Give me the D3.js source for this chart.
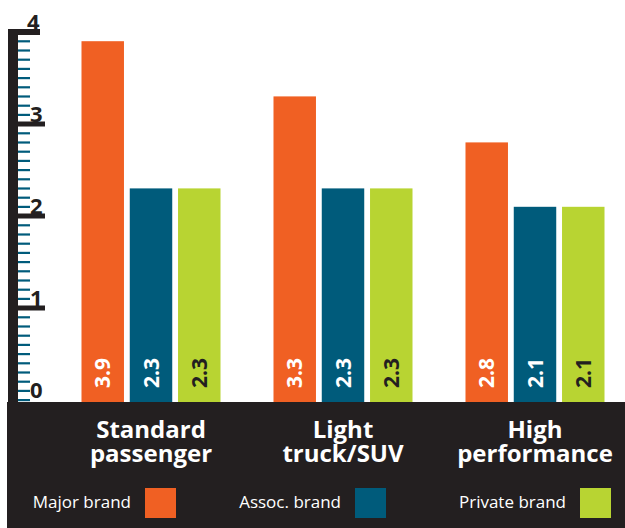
<!DOCTYPE html>
<html>
<head>
<meta charset="utf-8">
<title>Brand comparison</title>
<script src="https://d3js.org/d3.v7.min.js"></script>
<style>
  body { margin: 0; background: #fff; }
  svg text { font-family: "Open Sans", "Noto Sans", sans-serif; }
</style>
</head>
<body>
<div id="chart"></div>
<script>
// data
var categories = [["Standard", "passenger"], ["Light", "truck/SUV"], ["High", "performance"]];
var series = ["Major brand", "Assoc. brand", "Private brand"];
var major = [3.9, 3.3, 2.8];
var assoc = [2.3, 2.3, 2.1];
var privateBrand = [2.3, 2.3, 2.1];
var tickLabels = ["0", "1", "2", "3", "4"];

var colors = ["#f06023", "#005b7b", "#b8d432"];
var labelColors = ["#ffffff", "#ffffff", "#231f20"];
var dark = "#231f20";

var width = 625, height = 528;
var bandTop = 402;

var svg = d3.select("#chart").append("svg")
  .attr("width", width)
  .attr("height", height);

var catKeys = categories.map(function(d) { return d.join(" "); });

// scales
var x0 = d3.scaleBand()
  .domain(catKeys)
  .range([55, 631])
  .paddingInner(0.276)
  .paddingOuter(0.138);

var x1 = d3.scaleBand()
  .domain(series)
  .range([0, x0.bandwidth()])
  .paddingInner(0.12);

var y = d3.scaleLinear()
  .domain([0, 4])
  .range([400, 32]);

var rows = catKeys.map(function(c, i) {
  return { cat: c, values: [major[i], assoc[i], privateBrand[i]] };
});

// bars
var groups = svg.selectAll(".group")
  .data(rows)
  .enter().append("g")
  .attr("class", "group")
  .attr("transform", function(d) { return "translate(" + x0(d.cat) + ",0)"; });

groups.selectAll("rect")
  .data(function(d) { return d.values; })
  .enter().append("rect")
  .attr("x", function(d, i) { return x1(series[i]); })
  .attr("y", function(d) { return y(d); })
  .attr("width", x1.bandwidth())
  .attr("height", function(d) { return bandTop - y(d); })
  .attr("fill", function(d, i) { return colors[i]; });

groups.selectAll(".val")
  .data(function(d) { return d.values; })
  .enter().append("text")
  .attr("class", "val")
  .attr("transform", function(d, i) {
    return "translate(" + (x1(series[i]) + x1.bandwidth() / 2) + ",388) rotate(-90)";
  })
  .attr("dy", "0.36em")
  .attr("font-size", "21px")
  .attr("font-weight", "bold")
  .attr("fill", function(d, i) { return labelColors[i]; })
  .text(function(d) { return d.toFixed(1); });

// y axis: thick bar with minor and major ticks
var axis = svg.append("g");

var minor = d3.range(0, 41).map(function(i) { return i / 10; })
  .filter(function(v) { return Math.round(v * 10) % 10 !== 0 || v === 0; });

axis.selectAll(".minor")
  .data(minor)
  .enter().append("rect")
  .attr("x", 18)
  .attr("y", function(d) { return y(d) - 1; })
  .attr("width", 12)
  .attr("height", 2.2)
  .attr("fill", "#005b7b");

axis.append("rect")
  .attr("x", 8)
  .attr("y", y(4) - 3)
  .attr("width", 10)
  .attr("height", bandTop - y(4) + 3)
  .attr("fill", dark);

axis.selectAll(".major")
  .data([1, 2, 3])
  .enter().append("rect")
  .attr("x", 18)
  .attr("y", function(d) { return y(d) - 2.5; })
  .attr("width", 27)
  .attr("height", 5)
  .attr("fill", dark);

// top cap
axis.append("rect")
  .attr("x", 8)
  .attr("y", y(4) - 3)
  .attr("width", 32)
  .attr("height", 6)
  .attr("fill", dark);

axis.selectAll(".tlabel")
  .data(tickLabels)
  .enter().append("text")
  .attr("x", function(d, i) { return i === 4 ? 27 : 30; })
  .attr("y", function(d, i) { return i === 0 ? y(0) - 2 : y(i) - 2; })
  .attr("font-size", "22px")
  .attr("font-weight", "bold")
  .attr("fill", dark)
  .text(function(d) { return d; });

// bottom band
svg.append("rect")
  .attr("x", 7)
  .attr("y", bandTop)
  .attr("width", width - 7)
  .attr("height", height - bandTop)
  .attr("fill", dark);

// category labels
var catText = svg.selectAll(".cat")
  .data(categories)
  .enter().append("text")
  .attr("class", "cat")
  .attr("text-anchor", "middle")
  .attr("font-size", "24px")
  .attr("font-weight", "bold")
  .attr("fill", "#fff");

catText.selectAll("tspan")
  .data(function(d, i) { return d.map(function(t) { return { t: t, c: catKeys[i] }; }); })
  .enter().append("tspan")
  .attr("x", function(d) { return x0(d.c) + x0.bandwidth() / 2; })
  .attr("y", function(d, i) { return 438 + i * 24; })
  .text(function(d) { return d.t; });

// legend
var legendX = [145, 355, 580];
var legend = svg.selectAll(".legend")
  .data(series)
  .enter().append("g")
  .attr("class", "legend")
  .attr("transform", function(d, i) { return "translate(" + legendX[i] + ",488)"; });

legend.append("rect")
  .attr("width", 31)
  .attr("height", 30)
  .attr("fill", function(d, i) { return colors[i]; });

legend.append("text")
  .attr("x", -14)
  .attr("y", 20)
  .attr("text-anchor", "end")
  .attr("font-size", "17px")
  .attr("fill", "#fff")
  .text(function(d) { return d; });
</script>
</body>
</html>
